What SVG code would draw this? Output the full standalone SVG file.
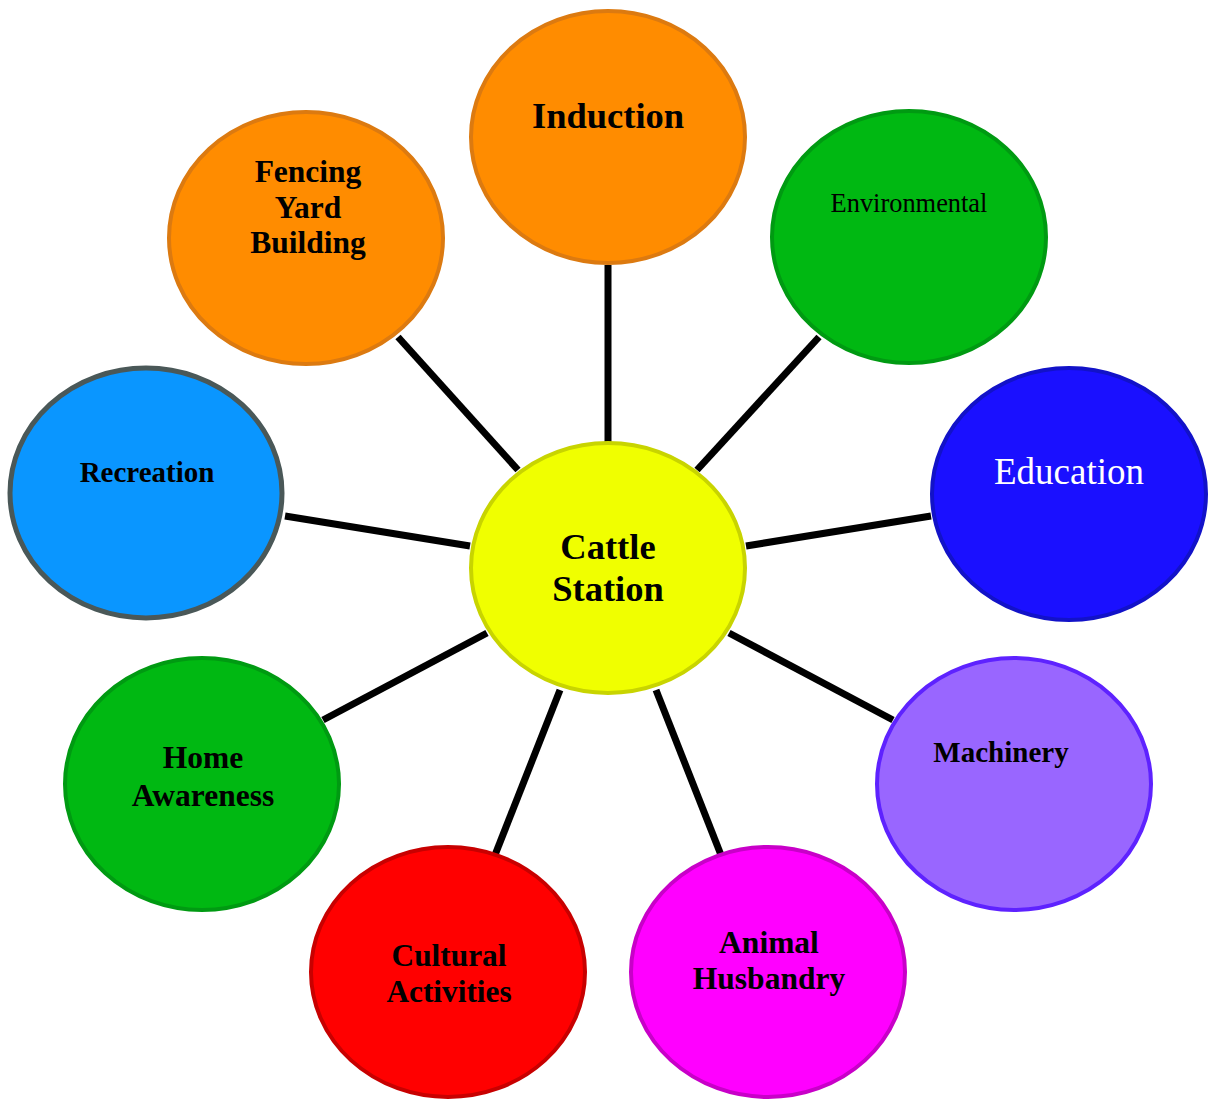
<svg xmlns="http://www.w3.org/2000/svg" width="1209" height="1100" viewBox="0 0 1209 1100">
<style>
.n{stroke-width:4}
.t{font-family:"Liberation Serif","Times New Roman",serif;font-weight:bold;text-anchor:middle;fill:#000}
.r{font-weight:normal}
.c line{stroke:#000;stroke-width:7}
</style>
<rect width="1209" height="1100" fill="#fff"/>
<g id="connectors" class="c">
<line x1="608" y1="265" x2="608" y2="442"/>
<line x1="398" y1="337" x2="518" y2="470"/>
<line x1="819" y1="337" x2="697" y2="470"/>
<line x1="285" y1="516" x2="470" y2="546"/>
<line x1="931" y1="516" x2="746" y2="546"/>
<line x1="323" y1="720" x2="487" y2="633"/>
<line x1="893" y1="720" x2="729" y2="633"/>
<line x1="495" y1="855" x2="560" y2="690"/>
<line x1="721" y1="855" x2="656" y2="690"/>
</g>
<g id="induction">
<ellipse class="n" cx="608" cy="137" rx="137" ry="126" fill="#FF8C00" stroke="#DC7A10"/>
<text class="t" x="608" y="128" font-size="36.5">Induction</text>
</g>
<g id="fencing">
<ellipse class="n" cx="306" cy="238" rx="137" ry="126" fill="#FF8C00" stroke="#DC7A10"/>
<text class="t" x="308" y="182" font-size="31.5">Fencing</text>
<text class="t" x="308" y="218" font-size="31.5">Yard</text>
<text class="t" x="308" y="253" font-size="31.5">Building</text>
</g>
<g id="environmental">
<ellipse class="n" cx="909" cy="237" rx="137" ry="126" fill="#00B812" stroke="#009A12"/>
<text class="t r" x="909" y="212" font-size="26.4">Environmental</text>
</g>
<g id="recreation">
<ellipse cx="146" cy="493" rx="136" ry="125" fill="#0A96FF" stroke="#4A5858" stroke-width="5"/>
<text class="t" x="147" y="482" font-size="29">Recreation</text>
</g>
<g id="education">
<ellipse class="n" cx="1069" cy="494" rx="137" ry="126" fill="#1A10FF" stroke="#1212C8"/>
<text class="t r" x="1069" y="484" font-size="37" style="fill:#fff">Education</text>
</g>
<g id="cattle-station">
<ellipse class="n" cx="608" cy="568" rx="137" ry="125" fill="#F0FF00" stroke="#C8D400"/>
<text class="t" x="608" y="559" font-size="36.5">Cattle</text>
<text class="t" x="608" y="601" font-size="36.5">Station</text>
</g>
<g id="home-awareness">
<ellipse class="n" cx="202" cy="784" rx="137" ry="126" fill="#00B812" stroke="#009A12"/>
<text class="t" x="203" y="768" font-size="31.5">Home</text>
<text class="t" x="203" y="806" font-size="31.5">Awareness</text>
</g>
<g id="machinery">
<ellipse class="n" cx="1014" cy="784" rx="137" ry="126" fill="#9966FF" stroke="#5E22FF"/>
<text class="t" x="1001" y="762" font-size="29">Machinery</text>
</g>
<g id="cultural">
<ellipse class="n" cx="448" cy="972" rx="137" ry="125" fill="#FF0000" stroke="#C80000"/>
<text class="t" x="449" y="966" font-size="31.3">Cultural</text>
<text class="t" x="449" y="1002" font-size="31.3">Activities</text>
</g>
<g id="animal">
<ellipse class="n" cx="768" cy="972" rx="137" ry="125" fill="#FF00FF" stroke="#C800C8"/>
<text class="t" x="769" y="953" font-size="31.5">Animal</text>
<text class="t" x="769" y="989" font-size="31.5">Husbandry</text>
</g>
</svg>
